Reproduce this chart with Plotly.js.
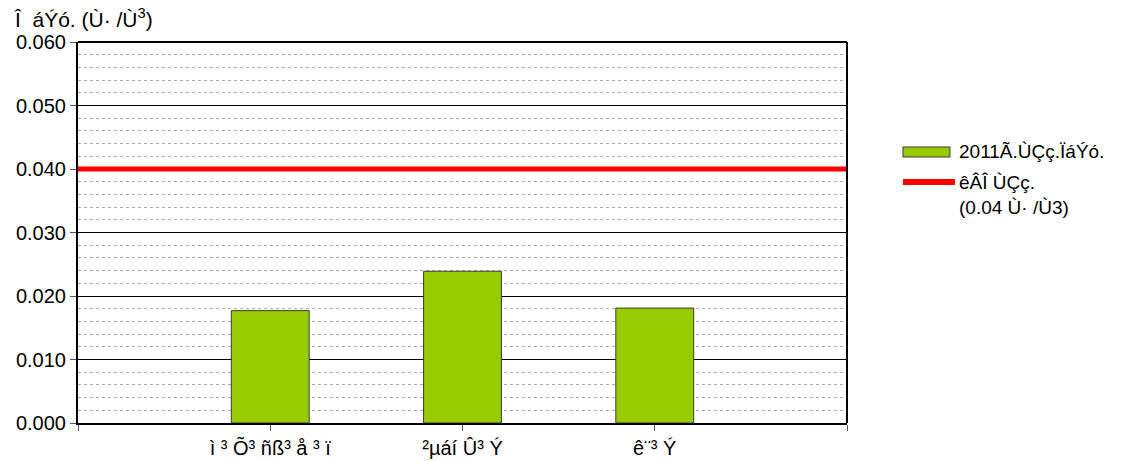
<!DOCTYPE html>
<html>
<head>
<meta charset="utf-8">
<script src="https://cdn.plot.ly/plotly-3.0.1.min.js"></script>
<style>html,body{margin:0;padding:0;background:#fff;}#chart{width:1126px;height:461px;}</style>
</head>
<body>
<div id="chart"></div>
<script>
const categories = ["ì ³ Õ³ ñß³ å ³ ï", "²µáí Û³ Ý", "ê¨³ Ý"];
const categoryPositions = [1, 2, 3];
const values2011 = [0.0177, 0.0239, 0.0181];
const limitValue = 0.04;
const limitSpan = [0, 4];
const yTickVals = [0, 0.01, 0.02, 0.03, 0.04, 0.05, 0.06];
const yTickText = ["0.000", "0.010", "0.020", "0.030", "0.040", "0.050", "0.060"];
const barName = "2011Ã.ÙÇç.ÏáÝó.";
const lineName = "êÂÎ ÙÇç.<br>(0.04 Ù· /Ù3)";
const yTitle = "Î  áÝó. (Ù· /Ù<sup>3</sup>)";

const font = "Liberation Sans, Arial, sans-serif";
const barColor = "#99CC00";
const lineColor = "#FF0000";

const traces = [
  {
    type: "bar",
    x: categoryPositions,
    y: values2011,
    name: barName,
    width: 0.405,
    marker: {color: barColor, line: {color: "#3a3a3a", width: 1}},
    hoverinfo: "y",
    showlegend: false
  },
  {
    type: "scatter",
    mode: "lines",
    x: limitSpan,
    y: [limitValue, limitValue],
    name: lineName,
    line: {color: lineColor, width: 5},
    hoverinfo: "y",
    showlegend: false
  }
];

const layout = {
  width: 1126,
  height: 461,
  margin: {l: 78, r: 279, t: 42, b: 38},
  paper_bgcolor: "#ffffff",
  plot_bgcolor: "#ffffff",
  font: {family: font, size: 16, color: "#000"},
  showlegend: false,
  bargap: 0,
  xaxis: {
    range: limitSpan,
    tickvals: categoryPositions,
    ticktext: categories,
    ticks: "outside",
    ticklen: 6,
    tickcolor: "#555",
    tickwidth: 1,
    showgrid: false,
    zeroline: false,
    showline: true,
    linecolor: "#000",
    linewidth: 2,
    tickfont: {family: font, size: 20, color: "#000"},
    minor: {tick0: 0, dtick: 4, ticks: "outside", ticklen: 6, tickcolor: "#555", tickwidth: 1, showgrid: false},
    fixedrange: true
  },
  yaxis: {
    range: [0, 0.06],
    tickvals: yTickVals,
    ticktext: yTickText,
    ticks: "outside",
    ticklen: 6,
    tickcolor: "#555",
    showgrid: true,
    gridcolor: "#000",
    gridwidth: 1,
    zeroline: false,
    showline: true,
    linecolor: "#000",
    linewidth: 2,
    tickfont: {family: font, size: 20, color: "#000"},
    minor: {dtick: 0.002, showgrid: true, gridcolor: "#a8a8a8", griddash: "dot", gridwidth: 1, ticks: ""},
    fixedrange: true
  },
  shapes: [
    {type: "line", xref: "paper", yref: "paper", x0: 1, x1: 1, y0: 0, y1: 1, line: {color: "#000", width: 2}},
    {type: "line", xref: "paper", yref: "paper", x0: 0, x1: 1, y0: 1, y1: 1, line: {color: "#000", width: 2}},
    {type: "rect", xref: "paper", yref: "paper", x0: 1.0728, x1: 1.1339, y0: 0.6982, y1: 0.7244,
     fillcolor: barColor, line: {color: "#3a3a3a", width: 1}},
    {type: "line", xref: "paper", yref: "paper", x0: 1.0728, x1: 1.1404, y0: 0.6325, y1: 0.6325,
     line: {color: lineColor, width: 6}}
  ],
  annotations: [
    {
      text: yTitle,
      xref: "paper", yref: "paper",
      x: -0.0858, y: 1,
      xanchor: "left", yanchor: "bottom",
      yshift: 9,
      showarrow: false,
      font: {family: font, size: 21, color: "#000"}
    },
    {
      text: barName,
      xref: "paper", yref: "paper",
      x: 1.143, y: 0.7113,
      xanchor: "left", yanchor: "middle",
      showarrow: false,
      font: {family: font, size: 19, color: "#000"}
    },
    {
      text: lineName,
      xref: "paper", yref: "paper",
      x: 1.143, y: 0.598,
      xanchor: "left", yanchor: "middle",
      align: "left",
      showarrow: false,
      font: {family: font, size: 19, color: "#000"}
    }
  ]
};

Plotly.newPlot("chart", traces, layout, {displayModeBar: false, staticPlot: true});
</script>
</body>
</html>
